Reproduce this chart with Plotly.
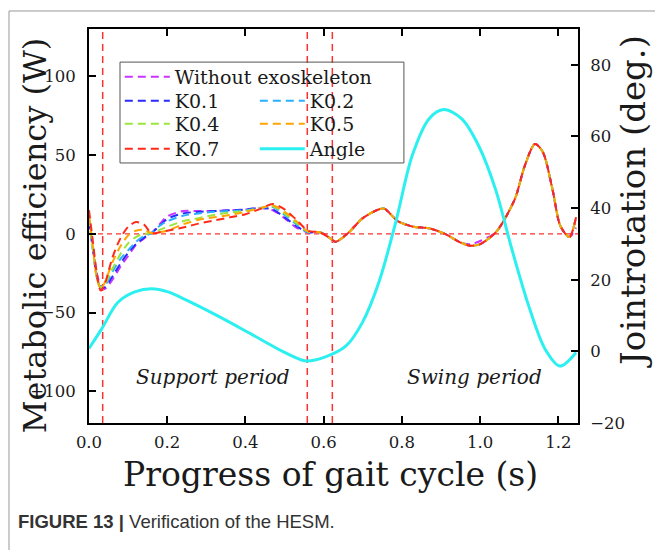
import plotly.graph_objects as go

# ---------------- data ----------------
t_met = [0.0, 0.01, 0.02, 0.03, 0.04, 0.06, 0.08, 0.10, 0.12, 0.14, 0.16, 0.18, 0.20,
         0.24, 0.28, 0.32, 0.36, 0.40, 0.44, 0.47, 0.50, 0.53, 0.56,
         0.59, 0.615, 0.63, 0.66, 0.70, 0.74, 0.755, 0.79, 0.83, 0.87, 0.91, 0.95,
         0.975, 1.00, 1.04, 1.065, 1.09, 1.115, 1.14, 1.16, 1.185, 1.205, 1.228, 1.245]

without_exo = [8, -8, -25, -33, -35, -29, -21, -14, -7, -3, 0.5, 6, 11,
               14.5, 14.5, 14.5, 15, 15.5, 16.5, 15, 10, 4, 1,
               1, -2.5, -5, 0, 10, 15.5, 16, 8, 4.5, 3.5, 0, -5.5,
               -6.5, -4.5, 1, 10.5, 23, 44, 57, 52, 28, 5, -2, 4]
k01 = [8, -10, -27, -34, -34, -27, -19, -12, -6.5, -2.5, 0.5, 5, 9.5,
       13, 14, 14.5, 15, 15.5, 16.5, 15.5, 10.5, 5, 1,
       1, -2.5, -5, 0, 10, 15.5, 16, 8, 4.5, 3.5, 0, -5.5,
       -7.5, -6.5, 1, 10.5, 23, 44, 57, 52, 28, 5, -2, 10.5]
k02 = [10, -10, -27, -34, -33, -24, -16, -10.5, -5, -1.5, 0.5, 5, 8,
       11.5, 13, 14, 14.5, 15, 16.5, 17, 12, 6, 1,
       1, -2.5, -5, 0, 10, 15.5, 16, 8, 4.5, 3.5, 0, -5.5,
       -7.5, -6.5, 1, 10.5, 23, 44, 57, 52, 28, 5, -2, 10.5]
k04 = [10, -10, -28, -34, -32, -22, -13, -6, -2, 0, 0.5, 2.5, 4.5,
       8, 10, 12, 13.5, 14.5, 16.5, 17.5, 13, 7, 1.5,
       1, -2.5, -5, 0, 10, 15.5, 16, 8, 4.5, 3.5, 0, -5.5,
       -7.5, -6.5, 1, 10.5, 23, 44, 57, 52, 28, 5, -2, 10.5]
k05 = [12, -8, -28, -35, -31, -18, -8, -1, 2, 2.5, 0.5, 1, 2,
       6, 9, 10.5, 12, 14, 16.5, 18, 14, 8, 1.5,
       1, -2.5, -5, 0, 10, 15.5, 16, 8, 4.5, 3.5, 0, -5.5,
       -7.5, -6.5, 1, 10.5, 23, 44, 57, 52, 28, 5, -2, 10.5]
k07 = [15, -5, -25, -36, -32, -15, -3, 4.5, 7.5, 6, 0.5, 1, 2,
       4, 6.5, 8.5, 10.5, 12.5, 16, 19, 15.5, 9, 2,
       1, -2.5, -5, 0, 10, 15.5, 16, 8, 4.5, 3.5, 0, -5.5,
       -7.5, -6.5, 1, 10.5, 23, 44, 57, 52, 28, 5, -2, 10.5]

t_angle = [0.0, 0.032, 0.074, 0.117, 0.16, 0.202, 0.245, 0.329, 0.415, 0.5, 0.543,
           0.558, 0.601, 0.657, 0.699, 0.741, 0.784, 0.826, 0.869, 0.907,
           0.953, 0.996, 1.039, 1.081, 1.124, 1.166, 1.204, 1.245]
angle = [0.8, 6.2, 13.7, 16.6, 17.5, 16.6, 14.5, 9.9, 4.8, -0.3, -2.4,
         -2.7, -1.7, 1.5, 8.1, 19.3, 36, 54.6, 64.9, 67.5,
         64.9, 57.4, 45.3, 28.5, 12.7, 0.6, -4.1, -0.3]

guide_x = [0.035, 0.558, 0.622]
guide_y = [0]

x_ticks = [0.0, 0.2, 0.4, 0.6, 0.8, 1.0, 1.2]
y_ticks = [-100, -50, 0, 50, 100]
y2_ticks = [-20, 0, 20, 40, 60, 80]

series = [
    ("Without exoskeleton", without_exo, "#cc33ff", "legend"),
    ("K0.1", k01, "#2a2aff", "legend2"),
    ("K0.2", k02, "#2ab0ff", "legend2"),
    ("K0.4", k04, "#9be63c", "legend3"),
    ("K0.5", k05, "#ffa500", "legend3"),
    ("K0.7", k07, "#ff2a1a", "legend4"),
]

SERIF = "DejaVu Serif"
TXT = "#1a1a1a"

fig = go.Figure()
for name, vals, col, lg in series:
    fig.add_trace(go.Scatter(
        x=t_met, y=vals, name=name, mode="lines", legend=lg,
        line=dict(color=col, width=2, dash="8px,5px", shape="spline", smoothing=0.8),
    ))
fig.add_trace(go.Scatter(
    x=t_angle, y=angle, name="Angle", mode="lines", yaxis="y2", legend="legend4",
    line=dict(color="#2cf0f0", width=3, shape="spline", smoothing=0.9),
))

for gx in guide_x:
    fig.add_shape(type="line", xref="x", yref="paper", x0=gx, x1=gx, y0=0, y1=1,
                  line=dict(color="#ff3030", width=1.5, dash="7px,5px"), layer="below")
for gy in guide_y:
    fig.add_shape(type="line", xref="paper", yref="y", x0=0, x1=1, y0=gy, y1=gy,
                  line=dict(color="#ff3030", width=1.2, dash="5px,4px"), layer="below")

# legend frame
fig.add_shape(type="rect", xref="paper", yref="paper", x0=0.0634, x1=0.644, y0=0.66, y1=0.916,
              line=dict(color="#555555", width=1), fillcolor="rgba(0,0,0,0)")
# figure outer frame (top and left)
fig.add_shape(type="line", xref="paper", yref="paper", x0=-0.1636, x1=1.2, y0=1.0457, y1=1.0457,
              line=dict(color="#999999", width=1))
fig.add_shape(type="line", xref="paper", yref="paper", x0=-0.1636, x1=-0.1636, y0=-0.4, y1=1.0457,
              line=dict(color="#999999", width=1))

axis_common = dict(showline=True, linecolor="black", linewidth=2, ticks="inside", ticklen=7,
                   tickwidth=2, tickcolor="black", showgrid=False, zeroline=False,
                   tickfont=dict(family=SERIF, size=16.5, color=TXT))

leg_common = dict(x=0.063, xanchor="left", yanchor="middle", bgcolor="rgba(0,0,0,0)",
                  orientation="h", font=dict(family=SERIF, size=19, color=TXT), itemwidth=45,
                  tracegroupgap=0)

fig.update_layout(
    width=655, height=550,
    margin=dict(l=89, r=77, t=29, b=127),
    paper_bgcolor="white", plot_bgcolor="white",
    xaxis=dict(range=[0, 1.25], tickvals=x_ticks, tickformat=".1f", mirror="ticks",
               ticklabelstandoff=3, **axis_common),
    yaxis=dict(range=[-120, 130], tickvals=y_ticks, mirror=False, ticklabelstandoff=8, **axis_common),
    yaxis2=dict(range=[-20, 90], tickvals=y2_ticks, overlaying="y", side="right",
                ticklabelstandoff=7, **axis_common),
    legend=dict(y=0.8782, **leg_common),
    legend2=dict(y=0.8173, entrywidth=75, **leg_common),
    legend3=dict(y=0.7589, entrywidth=75, **leg_common),
    legend4=dict(y=0.6954, entrywidth=75, **leg_common),
    showlegend=True,
)

ann = [
    dict(text="Metabolic efficiency (W)", x=-0.11, y=0.477, textangle=-90,
         font=dict(family=SERIF, size=32, color=TXT)),
    dict(text="Jointrotation (deg.)", x=1.112, y=0.563, textangle=-90,
         font=dict(family=SERIF, size=34, color=TXT)),
    dict(text="Progress of gait cycle (s)", x=0.493, y=-0.131,
         font=dict(family=SERIF, size=33, color=TXT)),
    dict(text="<i>Support period</i>", x=0.2536, y=0.117,
         font=dict(family=SERIF, size=20, color=TXT)),
    dict(text="<i>Swing period</i>", x=0.789, y=0.117,
         font=dict(family=SERIF, size=20, color=TXT)),
    dict(text="<b>FIGURE 13 |</b> Verification of the HESM.", x=-0.149, y=-0.249, xanchor="left",
         font=dict(family="Liberation Sans Narrow, Liberation Sans", size=18.5, color="#333333")),
]
for a in ann:
    a.setdefault("xanchor", "center")
    fig.add_annotation(xref="paper", yref="paper", showarrow=False, yanchor="middle", **a)

fig.write_html("out.html")
